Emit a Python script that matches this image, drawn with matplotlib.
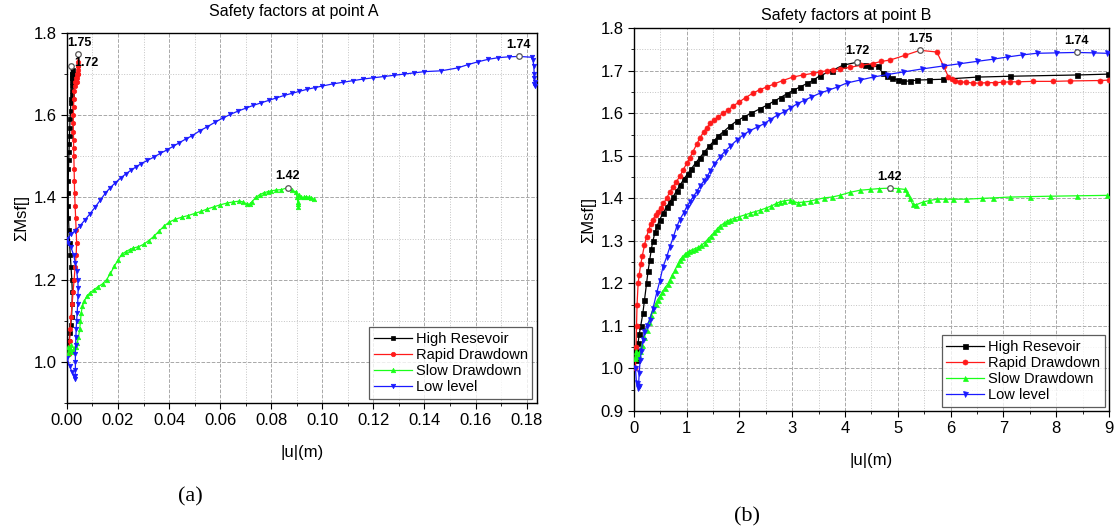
import matplotlib
matplotlib.use("Agg")
import matplotlib.pyplot as plt
from matplotlib.ticker import MultipleLocator

plt.rcParams['font.family'] = ['Liberation Sans', 'DejaVu Sans']

# ---------------- Point A ----------------
a_high_x = [0.0005, 0.0008, 0.0012, 0.0015, 0.0018, 0.0020, 0.0021, 0.0019, 0.0016, 0.0013,
            0.0010, 0.0008, 0.0006, 0.0005, 0.0005, 0.0005, 0.0006, 0.0007, 0.0008, 0.0009,
            0.0010, 0.0011, 0.0012, 0.0014, 0.0015, 0.0017, 0.0018, 0.0019, 0.0020, 0.0020,
            0.0021, 0.0022, 0.0022, 0.0021, 0.0020, 0.0018, 0.0015]
a_high_y = [1.03, 1.05, 1.07, 1.09, 1.11, 1.14, 1.17, 1.20, 1.23, 1.26,
            1.29, 1.32, 1.35, 1.38, 1.41, 1.44, 1.47, 1.49, 1.51, 1.53,
            1.55, 1.57, 1.59, 1.61, 1.63, 1.64, 1.65, 1.66, 1.67, 1.68,
            1.69, 1.70, 1.71, 1.70, 1.69, 1.70, 1.72]

a_rapid_x = [0.0008, 0.0010, 0.0013, 0.0016, 0.0020, 0.0024, 0.0028, 0.0032, 0.0036, 0.0038,
             0.0036, 0.0034, 0.0032, 0.0030, 0.0029, 0.0028, 0.0027, 0.0026, 0.0026, 0.0025,
             0.0025, 0.0025, 0.0026, 0.0027, 0.0028, 0.0030, 0.0032, 0.0034, 0.0036, 0.0038,
             0.0040, 0.0042, 0.0043, 0.0044, 0.0045, 0.0044, 0.0042, 0.0040, 0.0043]
a_rapid_y = [1.02, 1.05, 1.08, 1.11, 1.14, 1.17, 1.20, 1.23, 1.26, 1.29,
             1.32, 1.35, 1.38, 1.41, 1.44, 1.47, 1.50, 1.52, 1.54, 1.56,
             1.58, 1.60, 1.62, 1.64, 1.66, 1.67, 1.68, 1.68, 1.69, 1.69,
             1.70, 1.71, 1.72, 1.73, 1.748, 1.72, 1.70, 1.68, 1.70]

a_slow_x = [0.0004, 0.0006, 0.0010, 0.0015, 0.0020, 0.0025, 0.0030, 0.0035, 0.0040, 0.0045,
            0.0050, 0.0053, 0.0056, 0.0060, 0.0068, 0.0078, 0.0090, 0.0105, 0.0120, 0.0140,
            0.0155, 0.0170, 0.0185, 0.0200, 0.0215, 0.0230, 0.0245, 0.0260, 0.0280, 0.0300,
            0.0320, 0.0340, 0.0360, 0.0380, 0.0400, 0.0425, 0.0450, 0.0475, 0.0500, 0.0525,
            0.0550, 0.0575, 0.0600, 0.0625, 0.0650, 0.0675, 0.0690, 0.0705, 0.0715, 0.0725,
            0.0740, 0.0755, 0.0770, 0.0786, 0.0800, 0.0820, 0.0840, 0.0865, 0.0880, 0.0896,
            0.0902, 0.0904, 0.0905, 0.0906, 0.0908, 0.0916, 0.0927, 0.0937, 0.0947, 0.0957,
            0.0967]
a_slow_y = [1.020, 1.035, 1.030, 1.040, 1.025, 1.030, 1.035, 1.035, 1.045, 1.060,
            1.080, 1.100, 1.120, 1.135, 1.148, 1.160, 1.168, 1.175, 1.182, 1.190,
            1.200, 1.215, 1.232, 1.248, 1.262, 1.268, 1.273, 1.277, 1.280, 1.286,
            1.295, 1.305, 1.318, 1.330, 1.340, 1.347, 1.352, 1.356, 1.361, 1.366,
            1.372, 1.377, 1.382, 1.386, 1.389, 1.391, 1.389, 1.384, 1.383, 1.390,
            1.400, 1.407, 1.411, 1.414, 1.416, 1.418, 1.419, 1.424, 1.417, 1.414,
            1.400, 1.385, 1.377, 1.390, 1.405, 1.400, 1.400, 1.402, 1.400, 1.398,
            1.396]

a_low_x = [0.0000, 0.0010, 0.0020, 0.0028, 0.0030, 0.0032, 0.0033, 0.0033, 0.0033, 0.0034,
           0.0035, 0.0036, 0.0038, 0.0040, 0.0042, 0.0043, 0.0044, 0.0042, 0.0038, 0.0033,
           0.0026, 0.0015, 0.0005, 0.0002, 0.0015, 0.0030, 0.0050, 0.0070, 0.0090, 0.0110,
           0.0130, 0.0150, 0.0170, 0.0190, 0.0210, 0.0230, 0.0250, 0.0270, 0.0290, 0.0315,
           0.0340, 0.0365, 0.0390, 0.0415, 0.0440, 0.0465, 0.0490, 0.0520, 0.0550, 0.0580,
           0.0610, 0.0640, 0.0670, 0.0700, 0.0730, 0.0760, 0.0790, 0.0820, 0.0850, 0.0880,
           0.0910, 0.0940, 0.0970, 0.1000, 0.1040, 0.1080, 0.1120, 0.1160, 0.1200, 0.1240,
           0.1280, 0.1320, 0.1360, 0.1400, 0.1466, 0.1530, 0.1570, 0.1610, 0.1650, 0.1690,
           0.1730, 0.1770, 0.1820, 0.1825, 0.1828, 0.1830, 0.1830, 0.1832, 0.1830, 0.1832]
a_low_y = [1.010, 0.990, 0.975, 0.965, 0.958, 0.965, 0.980, 1.000, 1.020, 1.040,
           1.060, 1.080, 1.100, 1.120, 1.140, 1.160, 1.180, 1.200, 1.220, 1.240,
           1.260, 1.280, 1.290, 1.300, 1.310, 1.318, 1.330, 1.345, 1.360, 1.376,
           1.393, 1.410, 1.424, 1.436, 1.447, 1.457, 1.466, 1.474, 1.482, 1.490,
           1.498, 1.507, 1.515, 1.524, 1.533, 1.542, 1.550, 1.562, 1.572, 1.583,
           1.593, 1.602, 1.610, 1.617, 1.624, 1.630, 1.636, 1.642, 1.648, 1.653,
           1.658, 1.663, 1.667, 1.671, 1.676, 1.680, 1.684, 1.688, 1.691, 1.694,
           1.697, 1.700, 1.703, 1.706, 1.708, 1.715, 1.723, 1.730, 1.736, 1.740,
           1.742, 1.743, 1.741, 1.735, 1.720, 1.700, 1.690, 1.680, 1.675, 1.670]

# ---------------- Point B ----------------
b_high_x = [0.05, 0.06, 0.08, 0.10, 0.13, 0.17, 0.20, 0.24, 0.27, 0.30,
            0.33, 0.36, 0.40, 0.44, 0.49, 0.55, 0.62, 0.68, 0.74, 0.81,
            0.88, 0.95, 1.02, 1.09, 1.17, 1.25, 1.33, 1.42, 1.51, 1.60,
            1.70, 1.82, 1.95, 2.08, 2.22, 2.38, 2.52, 2.65, 2.78, 2.90,
            3.02, 3.15, 3.28, 3.40, 3.52, 3.75, 3.96, 4.23, 4.38, 4.47,
            4.62, 4.72, 4.80, 4.89, 5.00, 5.10, 5.23, 5.36, 5.60, 5.85,
            6.50, 7.12, 8.39, 8.98]
b_high_y = [1.020, 1.040, 1.060, 1.080, 1.100, 1.130, 1.160, 1.200, 1.230, 1.255,
            1.280, 1.300, 1.320, 1.335, 1.350, 1.365, 1.380, 1.392, 1.403, 1.418,
            1.432, 1.446, 1.458, 1.470, 1.483, 1.496, 1.508, 1.522, 1.534, 1.547,
            1.557, 1.570, 1.582, 1.591, 1.600, 1.610, 1.619, 1.628, 1.637, 1.646,
            1.654, 1.662, 1.670, 1.678, 1.688, 1.700, 1.713, 1.720, 1.714, 1.710,
            1.710, 1.694, 1.688, 1.682, 1.678, 1.675, 1.676, 1.678, 1.679, 1.680,
            1.685, 1.687, 1.690, 1.692]

b_rapid_x = [0.03, 0.04, 0.05, 0.06, 0.08, 0.10, 0.13, 0.16, 0.20, 0.24,
             0.28, 0.32, 0.36, 0.41, 0.46, 0.51, 0.56, 0.62, 0.68, 0.74,
             0.80, 0.87, 0.93, 1.00, 1.06, 1.12, 1.19, 1.25, 1.32, 1.38,
             1.45, 1.52, 1.60, 1.69, 1.78, 1.88, 2.00, 2.12, 2.25, 2.38,
             2.52, 2.66, 2.82, 3.01, 3.20, 3.40, 3.52, 3.65, 3.78, 3.90,
             4.09, 4.31, 4.53, 4.69, 4.85, 5.13, 5.42, 5.74, 5.87, 5.96,
             6.02, 6.09, 6.18, 6.30, 6.43, 6.55, 6.68, 6.84, 6.99, 7.12,
             7.28, 7.56, 7.94, 8.26, 8.83, 9.00]
b_rapid_y = [1.000, 1.050, 1.100, 1.150, 1.200, 1.220, 1.245, 1.265, 1.290, 1.310,
             1.325, 1.340, 1.350, 1.360, 1.368, 1.378, 1.388, 1.400, 1.415, 1.426,
             1.438, 1.452, 1.466, 1.482, 1.495, 1.510, 1.527, 1.542, 1.556, 1.566,
             1.576, 1.584, 1.592, 1.600, 1.607, 1.617, 1.627, 1.637, 1.647, 1.655,
             1.662, 1.669, 1.677, 1.685, 1.690, 1.694, 1.697, 1.700, 1.702, 1.704,
             1.708, 1.713, 1.717, 1.722, 1.725, 1.736, 1.748, 1.744, 1.710, 1.685,
             1.680, 1.677, 1.674, 1.673, 1.671, 1.671, 1.672, 1.672, 1.673, 1.674,
             1.674, 1.675, 1.675, 1.676, 1.677, 1.678]

b_slow_x = [0.02, 0.04, 0.06, 0.08, 0.11, 0.15, 0.20, 0.24, 0.28, 0.32,
            0.36, 0.41, 0.45, 0.49, 0.54, 0.59, 0.64, 0.68, 0.73, 0.78,
            0.83, 0.87, 0.92, 0.96, 1.00, 1.05, 1.10, 1.16, 1.22, 1.28,
            1.34, 1.40, 1.46, 1.52, 1.57, 1.63, 1.70, 1.76, 1.83, 1.90,
            2.00, 2.10, 2.20, 2.30, 2.39, 2.50, 2.60, 2.70, 2.77, 2.85,
            2.95, 3.01, 3.10, 3.20, 3.33, 3.45, 3.60, 3.75, 3.90, 4.09,
            4.28, 4.47, 4.65, 4.85, 5.00, 5.13, 5.18, 5.23, 5.28, 5.35,
            5.47, 5.60, 5.74, 5.90, 6.05, 6.30, 6.60, 6.80, 7.12, 7.50,
            7.88, 8.40, 8.96]
b_slow_y = [1.025, 1.040, 1.030, 1.035, 1.040, 1.055, 1.075, 1.090, 1.110, 1.125,
            1.138, 1.152, 1.162, 1.170, 1.180, 1.190, 1.198, 1.208, 1.220, 1.232,
            1.245, 1.255, 1.262, 1.268, 1.272, 1.276, 1.279, 1.282, 1.285, 1.290,
            1.296, 1.304, 1.312, 1.320, 1.327, 1.335, 1.341, 1.346, 1.350, 1.353,
            1.357, 1.361, 1.365, 1.369, 1.372, 1.377, 1.382, 1.388, 1.392, 1.394,
            1.396, 1.393, 1.390, 1.391, 1.393, 1.397, 1.401, 1.403, 1.407, 1.414,
            1.419, 1.421, 1.423, 1.424, 1.423, 1.421, 1.412, 1.400, 1.386, 1.385,
            1.391, 1.395, 1.398, 1.398, 1.398, 1.398, 1.400, 1.401, 1.403, 1.404,
            1.405, 1.406, 1.407]

b_low_x = [0.03, 0.05, 0.07, 0.09, 0.10, 0.12, 0.14, 0.17, 0.20, 0.24,
           0.30, 0.36, 0.43, 0.49, 0.55, 0.62, 0.68, 0.75, 0.81, 0.87,
           0.94, 1.00, 1.06, 1.12, 1.19, 1.25, 1.32, 1.38, 1.45, 1.52,
           1.63, 1.72, 1.82, 1.95, 2.06, 2.18, 2.33, 2.46, 2.58, 2.71,
           2.84, 2.96, 3.09, 3.22, 3.36, 3.52, 3.68, 3.84, 4.03, 4.28,
           4.53, 4.80, 5.10, 5.45, 5.85, 6.15, 6.50, 6.80, 7.06, 7.35,
           7.63, 8.00, 8.39, 8.70, 8.96]
b_low_y = [1.000, 0.965, 0.955, 0.960, 0.990, 1.020, 1.040, 1.066, 1.085, 1.100,
           1.114, 1.140, 1.177, 1.205, 1.238, 1.262, 1.285, 1.310, 1.333, 1.350,
           1.365, 1.380, 1.392, 1.403, 1.416, 1.428, 1.440, 1.450, 1.465, 1.480,
           1.497, 1.510, 1.522, 1.537, 1.548, 1.558, 1.567, 1.575, 1.585, 1.595,
           1.603, 1.612, 1.622, 1.630, 1.638, 1.647, 1.654, 1.661, 1.671, 1.678,
           1.685, 1.691, 1.697, 1.704, 1.711, 1.716, 1.722, 1.727, 1.732, 1.737,
           1.741, 1.742, 1.743, 1.742, 1.741]

series_names = ["High Resevoir", "Rapid Drawdown", "Slow Drawdown", "Low level"]
series_colors = ["#000000", "#ff1a1a", "#1aff1a", "#1a1aff"]
series_markers = ["s", "o", "^", "v"]

panel_a = [(a_high_x, a_high_y), (a_rapid_x, a_rapid_y), (a_slow_x, a_slow_y), (a_low_x, a_low_y)]
panel_b = [(b_high_x, b_high_y), (b_rapid_x, b_rapid_y), (b_slow_x, b_slow_y), (b_low_x, b_low_y)]

# label offsets (points) for each series' peak value
offsets_a = [(11, -2), (1, 4), (0, 4), (0, 4)]
offsets_b = [(0, 4), (0, 4), (0, 4), (0, 4)]

fig = plt.figure(figsize=(11.16, 5.32), dpi=100)
ax_a = fig.add_axes([0.060, 0.2425, 0.421, 0.6955])
ax_b = fig.add_axes([0.568, 0.2274, 0.4257, 0.7196])


def draw_panel(ax, data, offsets, msize):
    for (xs, ys), name, col, mk, off in zip(data, series_names, series_colors,
                                            series_markers, offsets):
        ax.plot(xs, ys, color=col, marker=mk, markersize=msize, lw=0.9,
                markeredgewidth=0.5, label=name, zorder=3)
        k = max(range(len(ys)), key=lambda i: ys[i])
        ax.plot(xs[k], ys[k], 'o', ms=4, mfc='white', mec='#555555', mew=0.9, zorder=5)
        ax.annotate(f"{ys[k]:.2f}", (xs[k], ys[k]), xytext=off, textcoords='offset points',
                    ha='center', va='bottom', fontsize=9, fontweight='bold', zorder=6)
    ax.grid(True, which='major', ls='--', color='#a8a8a8', lw=0.7)
    ax.grid(True, which='minor', ls=':', color='#c4c4c4', lw=0.7)
    ax.set_axisbelow(True)
    ax.tick_params(which='both', direction='out', top=False, right=False, labelsize=12)
    ax.tick_params(which='major', length=4)
    ax.tick_params(which='minor', length=2.5)
    for s in ax.spines.values():
        s.set_linewidth(1.0)
    ax.set_xlabel("|u|(m)", fontsize=12, labelpad=12)
    ax.set_ylabel("ΣMsf[]", fontsize=12, labelpad=3)
    leg = ax.legend(loc='lower right', fontsize=10.5, frameon=True, fancybox=False,
                    edgecolor='#333333', handlelength=2.6, borderpad=0.3,
                    labelspacing=0.15, handletextpad=0.3, borderaxespad=0.3)
    leg.get_frame().set_linewidth(0.9)


draw_panel(ax_a, panel_a, offsets_a, 3.2)
ax_a.set_xlim(0, 0.184)
ax_a.set_ylim(0.9, 1.8)
ax_a.xaxis.set_minor_locator(MultipleLocator(0.01))
ax_a.yaxis.set_minor_locator(MultipleLocator(0.1))
ax_a.set_xticks([0, 0.02, 0.04, 0.06, 0.08, 0.10, 0.12, 0.14, 0.16, 0.18])
ax_a.set_xticklabels(["0.00", "0.02", "0.04", "0.06", "0.08", "0.10", "0.12", "0.14", "0.16", "0.18"])
ax_a.set_yticks([1.0, 1.2, 1.4, 1.6, 1.8])
ax_a.set_yticklabels(["1.0", "1.2", "1.4", "1.6", "1.8"])
ax_a.set_title("Safety factors at point A", fontsize=11.5, x=0.483, pad=12)

draw_panel(ax_b, panel_b, offsets_b, 3.6)
ax_b.set_xlim(0, 9)
ax_b.set_ylim(0.9, 1.8)
ax_b.xaxis.set_major_locator(MultipleLocator(1))
ax_b.xaxis.set_minor_locator(MultipleLocator(0.5))
ax_b.yaxis.set_minor_locator(MultipleLocator(0.05))
ax_b.set_yticks([0.9, 1.0, 1.1, 1.2, 1.3, 1.4, 1.5, 1.6, 1.7, 1.8])
ax_b.set_yticklabels(["0.9", "1.0", "1.1", "1.2", "1.3", "1.4", "1.5", "1.6", "1.7", "1.8"])
ax_b.set_title("Safety factors at point B", fontsize=11.5, x=0.446, pad=6)

fig.text(190 / 1116, 1 - 497 / 532, "(a)", fontsize=16, family='Liberation Serif',
         ha='center', va='center')
fig.text(747 / 1116, 1 - 517 / 532, "(b)", fontsize=16, family='Liberation Serif',
         ha='center', va='center')

fig.savefig("out.png", dpi=100)
